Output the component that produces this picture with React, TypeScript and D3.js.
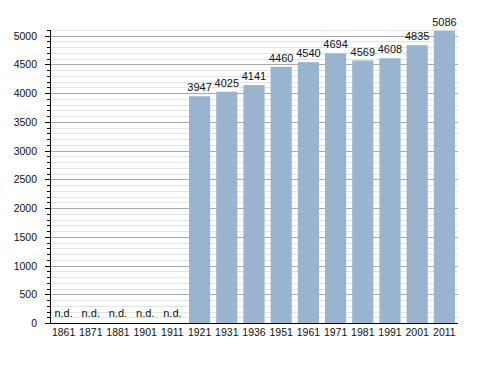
import { useEffect, useRef } from 'react';
import * as d3 from 'd3';

const years = ['1861', '1871', '1881', '1901', '1911', '1921', '1931', '1936', '1951', '1961', '1971', '1981', '1991', '2001', '2011'];
const population: (number | null)[] = [null, null, null, null, null, 3947, 4025, 4141, 4460, 4540, 4694, 4569, 4608, 4835, 5086];
const yTicks = [0, 500, 1000, 1500, 2000, 2500, 3000, 3500, 4000, 4500, 5000];

export default function App() {
  const svgRef = useRef<SVGSVGElement>(null);

  useEffect(() => {
    if (!svgRef.current) return;
    const svg = d3.select(svgRef.current);
    svg.selectAll('*').remove();

    const margin = { top: 30, right: 30, bottom: 50, left: 50 };
    const width = 488;
    const height = 373;
    const chartWidth = width - margin.left - margin.right;
    const chartHeight = height - margin.top - margin.bottom;
    const font = 'Liberation Sans, Arial, sans-serif';

    const x = d3.scaleBand().domain(years).range([0, chartWidth]).paddingInner(0.22).paddingOuter(0.11);
    const y = d3.scaleLinear().domain([0, 5100]).range([chartHeight, 0]);

    const g = svg.append('g').attr('transform', `translate(${margin.left},${margin.top})`);

    // minor grid
    const minor = d3.range(100, 5101, 100).filter(v => v % 500 !== 0);
    g.selectAll('.minor')
      .data(minor)
      .enter()
      .append('line')
      .attr('x1', 0)
      .attr('x2', chartWidth)
      .attr('y1', d => Math.round(y(d)) + 0.5)
      .attr('y2', d => Math.round(y(d)) + 0.5)
      .attr('stroke', '#e4e4e4');

    // major grid
    g.selectAll('.major')
      .data(yTicks.filter(v => v > 0))
      .enter()
      .append('line')
      .attr('x1', 0)
      .attr('x2', chartWidth)
      .attr('y1', d => Math.round(y(d)) + 0.5)
      .attr('y2', d => Math.round(y(d)) + 0.5)
      .attr('stroke', '#a8a8a8');

    const rows = years.map((yr, i) => ({ yr, v: population[i] }));

    // bars
    g.selectAll('.bar')
      .data(rows.filter(d => d.v !== null))
      .enter()
      .append('rect')
      .attr('x', d => x(d.yr)!)
      .attr('width', x.bandwidth())
      .attr('y', d => y(d.v as number))
      .attr('height', d => chartHeight - y(d.v as number))
      .attr('fill', '#9ab3cf');

    // value labels
    g.selectAll('.val')
      .data(rows)
      .enter()
      .append('text')
      .attr('x', d => x(d.yr)! + x.bandwidth() / 2)
      .attr('y', d => (d.v === null ? chartHeight - 6 : y(d.v) - 5))
      .attr('text-anchor', 'middle')
      .attr('font-family', font)
      .attr('font-size', 11)
      .attr('fill', '#111')
      .text(d => (d.v === null ? 'n.d.' : String(d.v)));

    // y axis
    g.append('line')
      .attr('x1', 0.5).attr('x2', 0.5)
      .attr('y1', 0).attr('y2', chartHeight)
      .attr('stroke', '#000');
    g.selectAll('.mt')
      .data(minor)
      .enter()
      .append('line')
      .attr('x1', -3).attr('x2', 0)
      .attr('y1', d => Math.round(y(d)) + 0.5)
      .attr('y2', d => Math.round(y(d)) + 0.5)
      .attr('stroke', '#000');
    g.selectAll('.Mt')
      .data(yTicks)
      .enter()
      .append('line')
      .attr('x1', -5).attr('x2', 0)
      .attr('y1', d => Math.round(y(d)) + 0.5)
      .attr('y2', d => Math.round(y(d)) + 0.5)
      .attr('stroke', '#000');
    g.selectAll('.yl')
      .data(yTicks)
      .enter()
      .append('text')
      .attr('x', -13)
      .attr('y', d => y(d) + 4)
      .attr('text-anchor', 'end')
      .attr('font-family', font)
      .attr('font-size', 10.5)
      .attr('fill', '#111')
      .text(d => String(d));

    // x axis
    g.append('line')
      .attr('x1', 0).attr('x2', chartWidth)
      .attr('y1', chartHeight + 0.5).attr('y2', chartHeight + 0.5)
      .attr('stroke', '#000');
    g.selectAll('.xl')
      .data(years)
      .enter()
      .append('text')
      .attr('x', d => x(d)! + x.bandwidth() / 2)
      .attr('y', chartHeight + 13)
      .attr('text-anchor', 'middle')
      .attr('font-family', font)
      .attr('font-size', 10.5)
      .attr('fill', '#111')
      .text(d => d);
  }, []);

  return (
    <div style={{ width: 488, height: 373, margin: -8 }}>
      <svg ref={svgRef} width={488} height={373} style={{ display: 'block', background: '#fff' }} />
    </div>
  );
}
